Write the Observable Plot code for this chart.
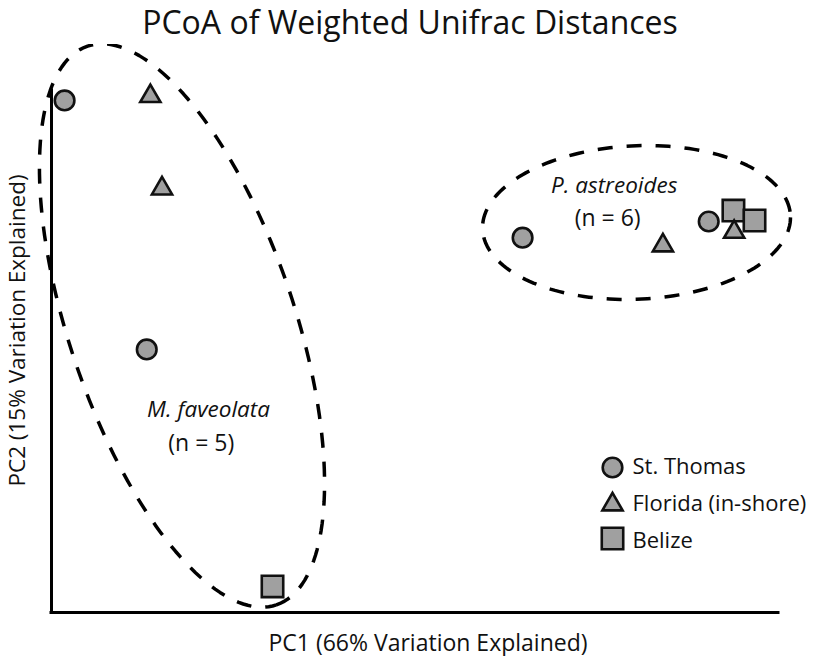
<!DOCTYPE html>
<html><head><meta charset="utf-8">
<script src="https://cdn.jsdelivr.net/npm/d3@7"></script>
<script src="https://cdn.jsdelivr.net/npm/@observablehq/plot@0.6"></script>
<style>
body{margin:0;background:#fff;width:816px;height:656px;overflow:hidden;font-family:"Open Sans",sans-serif}
#title{height:44px;box-sizing:border-box;padding:0 0 0 4px;font-size:32px;line-height:normal;text-align:center;color:#111;white-space:nowrap;overflow:visible}
#chart svg{display:block}
</style></head><body>
<div id="title"></div>
<div id="chart"></div>
<script>
// ---- data ----
const title = "PCoA of Weighted Unifrac Distances";
const xLabel = "PC1 (66% Variation Explained)";
const yLabel = "PC2 (15% Variation Explained)";
const sites = ["St. Thomas", "Florida (in-shore)", "Belize"];
const siteSymbols = ["circle", "triangle", "square"];
const pointSite = ["St. Thomas", "St. Thomas", "St. Thomas", "St. Thomas",
  "Florida (in-shore)", "Florida (in-shore)", "Florida (in-shore)", "Florida (in-shore)",
  "Belize", "Belize", "Belize"];
const pointPC1 = [1.8, 13.1, 64.8, 90.4, 13.6, 15.2, 84.1, 93.9, 30.4, 93.8, 96.7];
const pointPC2 = [98.1, 50.4, 71.8, 74.9, 98.9, 81.2, 70.3, 72.9, 5.0, 77.0, 75.1];
const groupNames = ["M. faveolata", "P. astreoides"];
const groupCounts = ["(n = 5)", "(n = 6)"];
const groupLabelPC1 = [21.6, 77.4];
const groupLabelPC2 = [37.5, 80.3];
const countLabelPC1 = [20.6, 76.5];
const countLabelPC2 = [31.0, 74.1];
const ellipseCenterPC1 = [17.95, 80.47];
const ellipseCenterPC2 = [54.98, 74.71];
const ellipseAxisA = [[12.98, -53.52], [21.18, 0.99]];
const ellipseAxisB = [[14.7, 6.9], [0, -14.71]];

document.getElementById("title").textContent = title;

const points = pointPC1.map((x, i) => ({site: pointSite[i], pc1: x, pc2: pointPC2[i]}));

// ellipse outlines from centre and conjugate semi-axes
const ellipsePts = [];
groupNames.forEach((g, k) => {
  const n = 180;
  for (let j = 0; j <= n; j++) {
    const t = (j / n) * 2 * Math.PI;
    ellipsePts.push({
      group: g,
      pc1: ellipseCenterPC1[k] + ellipseAxisA[k][0] * Math.cos(t) + ellipseAxisB[k][0] * Math.sin(t),
      pc2: ellipseCenterPC2[k] + ellipseAxisA[k][1] * Math.cos(t) + ellipseAxisB[k][1] * Math.sin(t)
    });
  }
});

const groupLabels = groupNames.map((g, i) => ({text: g, pc1: groupLabelPC1[i], pc2: groupLabelPC2[i]}));
const countLabels = groupCounts.map((g, i) => ({text: g, pc1: countLabelPC1[i], pc2: countLabelPC2[i]}));

const FONT = "Open Sans";
const FILL = "#a0a0a0";
const STROKE = "#111";
const symR = {circle: 9.8, triangle: 7.5, square: 12.1};

const marks = [
  Plot.ruleX([0], {stroke: "#000", strokeWidth: 3, strokeLinecap: "square"}),
  Plot.ruleY([0], {stroke: "#000", strokeWidth: 3, strokeLinecap: "square"}),
  Plot.line(ellipsePts, {x: "pc1", y: "pc2", z: "group", stroke: "#000", strokeWidth: 3.5,
    strokeDasharray: "15,14", strokeLinecap: "butt", curve: "linear"})
];
// draw Belize first, then Florida, then St. Thomas (as in the reference overlap)
[2, 1, 0].forEach(i => {
  marks.push(Plot.dot(points.filter(d => d.site === sites[i]), {
    x: "pc1", y: "pc2", symbol: siteSymbols[i], r: symR[siteSymbols[i]],
    fill: FILL, stroke: STROKE, strokeWidth: 2.6
  }));
});
marks.push(
  Plot.text(groupLabels, {x: "pc1", y: "pc2", text: "text", fontFamily: FONT, fontSize: 22.5,
    fontStyle: "italic", lineAnchor: "bottom", fill: "#111"}),
  Plot.text(countLabels, {x: "pc1", y: "pc2", text: "text", fontFamily: FONT, fontSize: 23,
    lineAnchor: "bottom", fill: "#111"}),
  Plot.text([xLabel], {frameAnchor: "bottom", dx: 13, dy: 38, text: d => d, fontFamily: FONT,
    fontSize: 23, textAnchor: "middle", lineAnchor: "bottom", fill: "#111"}),
  Plot.text([yLabel], {frameAnchor: "left", dx: -34, dy: -21, rotate: -90, text: d => d,
    fontFamily: FONT, fontSize: 22.5, textAnchor: "middle", lineAnchor: "middle", fill: "#111"})
);
// legend
const legendDotDy = [-145, -108, -74];
const legendTextDy = [-139, -102, -65];
sites.forEach((s, i) => {
  marks.push(
    Plot.dot([s], {frameAnchor: "bottom-right", dx: -166, dy: legendDotDy[i], symbol: siteSymbols[i],
      r: symR[siteSymbols[i]], fill: FILL, stroke: STROKE, strokeWidth: 2.6}),
    Plot.text([s], {frameAnchor: "bottom-right", dx: -146, dy: legendTextDy[i], text: d => d,
      textAnchor: "start", lineAnchor: "bottom", fontFamily: FONT, fontSize: 22, fill: "#111"})
  );
});

const chart = Plot.plot({
  width: 816,
  height: 612,
  marginLeft: 51,
  marginRight: 38,
  marginTop: 46,
  marginBottom: 44,
  x: {domain: [0, 100], axis: null},
  y: {domain: [0, 100], axis: null},
  style: {background: "#fff", fontFamily: FONT},
  marks
});
document.getElementById("chart").appendChild(chart);
</script>
</body></html>
